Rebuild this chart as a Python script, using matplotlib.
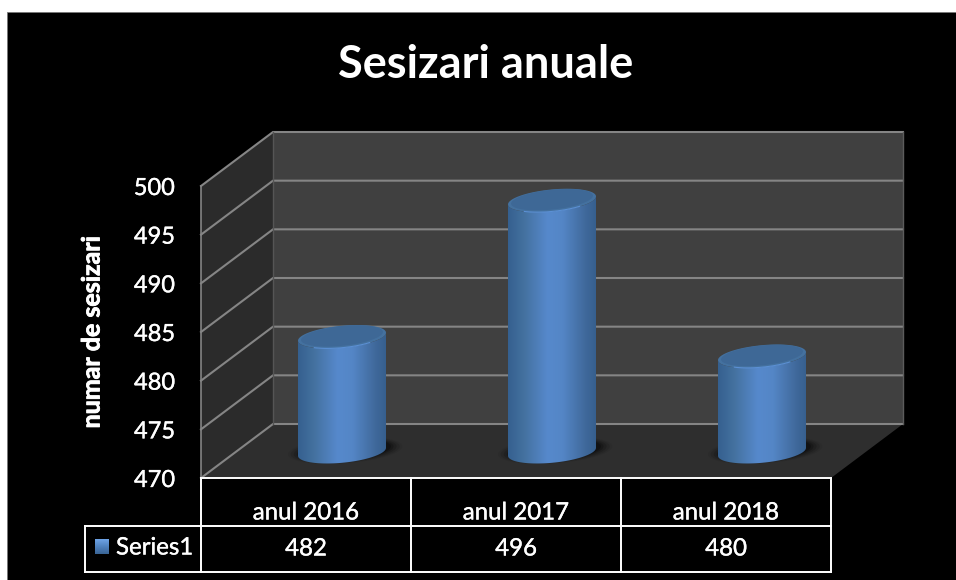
import matplotlib
matplotlib.use("Agg")
import matplotlib.pyplot as plt
import matplotlib.patheffects as pe
from matplotlib.colors import LinearSegmentedColormap
from matplotlib.patches import Polygon, Rectangle
import numpy as np

plt.rcParams['font.family'] = ['Lato', 'DejaVu Sans']

title = "Sesizari anuale"
y_label = "numar de sesizari"
series_name = "Series1"
categories = ["anul 2016", "anul 2017", "anul 2018"]
values = [482, 496, 480]
y_ticks = [470, 475, 480, 485, 490, 495, 500]

W, H = 956, 580
# front plane of the 3D box, in pixels
LEFT, RIGHT, BOTTOM, TOP = 201, 831, 478, 186
ux = (RIGHT - LEFT) / 3           # pixels per category
uy = (BOTTOM - TOP) / 30          # pixels per 1 unit of value
dx = 72 / ux                      # depth shift of the box
dy = 54 / uy
y0, y1 = y_ticks[0], y_ticks[-1]

fig = plt.figure(figsize=(W / 100, H / 100), dpi=100, facecolor='white')
fig.add_artist(Rectangle((7 / W, 0), 1, 1 - 12 / H, transform=fig.transFigure,
                         fc='black', ec='#777777', lw=0.6, zorder=-1))
ax = fig.add_axes([LEFT / W, 1 - BOTTOM / H, (RIGHT - LEFT) / W, (BOTTOM - TOP) / H])
ax.axis('off')
ax.patch.set_visible(False)

GRID = '#858585'
# the reference text is a bit heavier than plain Lato
heavy = [pe.withStroke(linewidth=0.25, foreground='white')]
heavier = [pe.withStroke(linewidth=0.6, foreground='white')]

# walls and floor
ax.add_patch(Polygon([(dx, y0 + dy), (3 + dx, y0 + dy), (3 + dx, y1 + dy), (dx, y1 + dy)],
                     fc='#404040', ec='none', clip_on=False, zorder=1))
ax.add_patch(Polygon([(0, y0), (dx, y0 + dy), (dx, y1 + dy), (0, y1)],
                     fc='#2b2b2b', ec='none', clip_on=False, zorder=1))
ax.add_patch(Polygon([(0, y0), (3, y0), (3 + dx, y0 + dy), (dx, y0 + dy)],
                     fc='#2e2e2e', ec='none', clip_on=False, zorder=1))
for t in y_ticks:
    ax.plot([0, dx, 3 + dx], [t, t + dy, t + dy], color=GRID, lw=1.5,
            clip_on=False, zorder=2, solid_joinstyle='miter')
ax.plot([0, 0], [y0, y1], color=GRID, lw=1.2, clip_on=False, zorder=2)
ax.plot([dx, dx], [y0 + dy, y1 + dy], color='#555555', lw=1, clip_on=False, zorder=2)
ax.plot([3 + dx, 3 + dx], [y0 + dy, y1 + dy], color='#5c5c5c', lw=1, clip_on=False, zorder=2)

# cylinders
rx = 44 / ux
ry = 11 / uy
tilt = 4 / uy
body_cmap = LinearSegmentedColormap.from_list(
    'body', [(0, '#35608f'), (0.18, '#44719f'), (0.45, '#5689cc'), (0.62, '#5486c6'),
             (0.88, '#40699b'), (1, '#365f8e')])
ang = np.linspace(0, 2 * np.pi, 181)


def ring(cx, cy, sx=1.0, sy=1.0):
    return (cx + sx * rx * np.cos(ang),
            cy + sy * ry * np.sin(ang) + tilt * np.cos(ang))


for i, v in enumerate(values):
    cx = i + 0.5 + dx / 2
    base = y0 + dy / 2 - 0.8 / uy
    top = v + dy / 2 - 2.5 / uy

    # soft shadow on the floor
    for s, a in zip([1.3, 1.24, 1.17, 1.1, 1.04], [0.06, 0.1, 0.14, 0.2, 0.25]):
        sx_, sy_ = ring(cx + 0.015, base + 0.15, s, s * 0.9)
        ax.fill(sx_, sy_, color='black', alpha=a, lw=0, zorder=3, clip_on=False)

    # body outline: lower half of the base, then back along the top
    low = ang[90:181]
    xb = cx + rx * np.cos(low)
    yb = base + ry * np.sin(low) + tilt * np.cos(low)
    up = low[::-1]
    xt = cx + rx * np.cos(up)
    yt = top + ry * np.sin(up) + tilt * np.cos(up)
    outline = Polygon(np.column_stack([np.r_[xb, xt], np.r_[yb, yt]]),
                      transform=ax.transData, fc='none', ec='none', zorder=4)
    ax.add_patch(outline)
    im = ax.imshow(np.linspace(0, 1, 256).reshape(1, -1), cmap=body_cmap, aspect='auto',
                   extent=[cx - rx, cx + rx, base - ry - tilt, top + ry + tilt], zorder=4)
    im.set_clip_path(outline)

    xc, yc = ring(cx, top)
    ax.fill(xc, yc, color='#44719f', lw=0, zorder=5)
    xc, yc = ring(cx, top + 0.08, 0.93, 0.9)
    ax.fill(xc, yc, color='#3e6896', lw=0, zorder=5)
    ax.plot(cx + rx * 0.98 * np.cos(low[25:-25]),
            top + ry * np.sin(low[25:-25]) + tilt * np.cos(low[25:-25]),
            color='#5b90d4', lw=0.8, zorder=6)

# axis text
for t in y_ticks:
    ax.text(-26 / ux, t - 2.5 / uy, str(t), color='white', fontsize=17, ha='right', va='center',
            clip_on=False, path_effects=heavy)
ax.text((92 - LEFT) / ux, y0 + (BOTTOM - 332) / uy, y_label, color='white', fontsize=18,
        fontweight='bold', rotation=90, ha='center', va='center', path_effects=heavier)
ax.text((486 - LEFT) / ux, y0 + (BOTTOM - 65) / uy, title, color='white', fontsize=32.5,
        fontweight='bold', ha='center', va='center')

# data table under the chart
row_mid = y0 - 48 / uy
row_bot = y0 - 93.5 / uy
leg_left = -116 / ux
table_kw = dict(color='white', lw=1.4, clip_on=False, zorder=7, solid_capstyle='projecting')
ax.plot([0, 3], [y0, y0], **table_kw)
ax.plot([leg_left, 3], [row_mid, row_mid], **table_kw)
ax.plot([leg_left, 3], [row_bot, row_bot], **table_kw)
ax.plot([leg_left, leg_left], [row_mid, row_bot], **table_kw)
for c in range(4):
    ax.plot([c, c], [y0, row_bot], **table_kw)

for i, (name, v) in enumerate(zip(categories, values)):
    ax.text(i + 0.5, y0 - 35 / uy, name, color='white', fontsize=17.3, ha='center', va='center',
            path_effects=heavy)
    ax.text(i + 0.5, y0 - 71 / uy, str(v), color='white', fontsize=17.3, ha='center', va='center',
            path_effects=heavy)
ax.text(-85 / ux, y0 - 70 / uy, series_name, color='white', fontsize=17.3, ha='left',
        va='center', path_effects=heavy)

# legend key
key = ax.imshow(np.linspace(0, 1, 32).reshape(-1, 1), aspect='auto',
                cmap=LinearSegmentedColormap.from_list('key', ['#6ea3e6', '#4f82bf', '#3a6596']),
                extent=[-106 / ux, -92 / ux, y0 - 76 / uy, y0 - 61 / uy], zorder=8)
key.set_clip_on(False)
ax.set_xlim(0, 3)
ax.set_ylim(y0, y1)

fig.savefig('out.png', dpi=100, facecolor=fig.get_facecolor())
